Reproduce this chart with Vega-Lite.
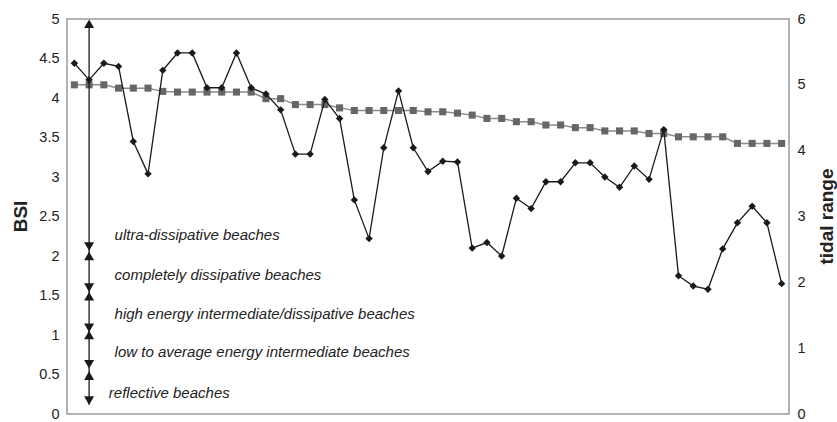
{
  "$schema": "https://vega.github.io/schema/vega-lite/v6.json",
  "width": 722,
  "height": 395,
  "autosize": "none",
  "padding": {"left": 67, "top": 19, "right": 48, "bottom": 8},
  "config": {
    "view": {"stroke": "#9a9a9a", "strokeWidth": 1.5},
    "font": "Liberation Sans",
    "axis": {"labelFont": "Liberation Sans", "labelFontSize": 14.5, "labelColor": "#222222", "titleFont": "Liberation Sans", "titleFontSize": 19, "titleFontWeight": "bold", "titleColor": "#222222", "domain": false, "ticks": false, "grid": false, "labelPadding": 8}
  },
  "datasets": {
    "series": [
      {"i": 1, "bsi": 4.44, "tr": 5.0},
      {"i": 2, "bsi": 4.23, "tr": 5.0},
      {"i": 3, "bsi": 4.44, "tr": 5.0},
      {"i": 4, "bsi": 4.4, "tr": 4.95},
      {"i": 5, "bsi": 3.45, "tr": 4.95},
      {"i": 6, "bsi": 3.04, "tr": 4.95},
      {"i": 7, "bsi": 4.35, "tr": 4.9},
      {"i": 8, "bsi": 4.57, "tr": 4.89},
      {"i": 9, "bsi": 4.57, "tr": 4.89},
      {"i": 10, "bsi": 4.13, "tr": 4.89},
      {"i": 11, "bsi": 4.13, "tr": 4.89},
      {"i": 12, "bsi": 4.57, "tr": 4.89},
      {"i": 13, "bsi": 4.13, "tr": 4.89},
      {"i": 14, "bsi": 4.05, "tr": 4.79},
      {"i": 15, "bsi": 3.85, "tr": 4.79},
      {"i": 16, "bsi": 3.29, "tr": 4.7},
      {"i": 17, "bsi": 3.29, "tr": 4.7},
      {"i": 18, "bsi": 3.98, "tr": 4.7},
      {"i": 19, "bsi": 3.74, "tr": 4.65},
      {"i": 20, "bsi": 2.71, "tr": 4.61},
      {"i": 21, "bsi": 2.22, "tr": 4.61},
      {"i": 22, "bsi": 3.37, "tr": 4.61},
      {"i": 23, "bsi": 4.09, "tr": 4.61},
      {"i": 24, "bsi": 3.37, "tr": 4.61},
      {"i": 25, "bsi": 3.07, "tr": 4.59},
      {"i": 26, "bsi": 3.2, "tr": 4.59},
      {"i": 27, "bsi": 3.19, "tr": 4.57},
      {"i": 28, "bsi": 2.1, "tr": 4.54},
      {"i": 29, "bsi": 2.17, "tr": 4.49},
      {"i": 30, "bsi": 2.0, "tr": 4.49},
      {"i": 31, "bsi": 2.73, "tr": 4.44},
      {"i": 32, "bsi": 2.6, "tr": 4.44},
      {"i": 33, "bsi": 2.94, "tr": 4.39},
      {"i": 34, "bsi": 2.94, "tr": 4.39},
      {"i": 35, "bsi": 3.18, "tr": 4.35},
      {"i": 36, "bsi": 3.18, "tr": 4.35},
      {"i": 37, "bsi": 3.0, "tr": 4.3},
      {"i": 38, "bsi": 2.87, "tr": 4.3},
      {"i": 39, "bsi": 3.14, "tr": 4.3},
      {"i": 40, "bsi": 2.97, "tr": 4.26},
      {"i": 41, "bsi": 3.6, "tr": 4.26},
      {"i": 42, "bsi": 1.75, "tr": 4.21},
      {"i": 43, "bsi": 1.62, "tr": 4.21},
      {"i": 44, "bsi": 1.58, "tr": 4.21},
      {"i": 45, "bsi": 2.09, "tr": 4.21},
      {"i": 46, "bsi": 2.42, "tr": 4.11},
      {"i": 47, "bsi": 2.63, "tr": 4.11},
      {"i": 48, "bsi": 2.42, "tr": 4.11},
      {"i": 49, "bsi": 1.65, "tr": 4.11}
    ],
    "axisline": [{"i": 2, "bsi": 0.12, "bsi2": 4.96}],
    "heads": [
      {"i": 2, "bsi": 4.94, "dir": "up"},
      {"i": 2, "bsi": 2.12, "dir": "down"},
      {"i": 2, "bsi": 2.0, "dir": "up"},
      {"i": 2, "bsi": 1.6, "dir": "down"},
      {"i": 2, "bsi": 1.49, "dir": "up"},
      {"i": 2, "bsi": 1.09, "dir": "down"},
      {"i": 2, "bsi": 1.0, "dir": "up"},
      {"i": 2, "bsi": 0.63, "dir": "down"},
      {"i": 2, "bsi": 0.485, "dir": "up"},
      {"i": 2, "bsi": 0.17, "dir": "down"}
    ],
    "labels": [
      {"i": 4, "bsi": 2.27, "label": "ultra-dissipative beaches"},
      {"i": 4, "bsi": 1.76, "label": "completely dissipative beaches"},
      {"i": 4, "bsi": 1.26, "label": "high energy intermediate/dissipative beaches"},
      {"i": 4, "bsi": 0.78, "label": "low to average energy intermediate beaches"}
    ],
    "labels2": [
      {"i": 3, "bsi": 0.27, "label": "reflective beaches"}
    ]
  },
  "layer": [
    {
      "data": {"name": "series"},
      "encoding": {
        "x": {"field": "i", "type": "ordinal", "axis": null},
        "y": {"field": "tr", "type": "quantitative", "scale": {"domain": [0, 6]}, "axis": {"orient": "right", "title": "tidal range", "values": [0, 1, 2, 3, 4, 5, 6], "format": "d", "titleAngle": 270, "titleX": 37, "titleY": 197, "titleAlign": "center", "titleBaseline": "middle"}}
      },
      "layer": [
        {"mark": {"type": "line", "color": "#8c8c8c", "strokeWidth": 1.5}},
        {"mark": {"type": "point", "shape": "square", "filled": true, "color": "#666666", "size": 50, "opacity": 1}}
      ]
    },
    {
      "encoding": {
        "x": {"field": "i", "type": "ordinal", "axis": null},
        "y": {"field": "bsi", "type": "quantitative", "scale": {"domain": [0, 5]}, "axis": {"orient": "left", "title": "BSI", "values": [0, 0.5, 1, 1.5, 2, 2.5, 3, 3.5, 4, 4.5, 5], "format": "~g", "titleX": -47, "titleY": 197, "titleAlign": "center", "titleBaseline": "middle"}}
      },
      "layer": [
        {
          "data": {"name": "series"},
          "mark": {"type": "line", "color": "#1a1a1a", "strokeWidth": 1.3}
        },
        {
          "data": {"name": "series"},
          "mark": {"type": "point", "shape": "diamond", "filled": true, "color": "#1a1a1a", "size": 55, "opacity": 1}
        },
        {
          "data": {"name": "axisline"},
          "mark": {"type": "rule", "color": "#1a1a1a", "strokeWidth": 1.3},
          "encoding": {
            "y2": {"field": "bsi2"}
          }
        },
        {
          "data": {"name": "heads"},
          "mark": {"type": "point", "filled": true, "color": "#1a1a1a", "size": 100, "opacity": 1},
          "encoding": {
            "shape": {"field": "dir", "type": "nominal", "scale": {"domain": ["up", "down"], "range": ["triangle-up", "triangle-down"]}, "legend": null}
          }
        },
        {
          "data": {"name": "labels"},
          "mark": {"type": "text", "align": "left", "baseline": "middle", "fontStyle": "italic", "fontSize": 15, "color": "#222222", "dx": -4},
          "encoding": {
            "text": {"field": "label"}
          }
        },
        {
          "data": {"name": "labels2"},
          "mark": {"type": "text", "align": "left", "baseline": "middle", "fontStyle": "italic", "fontSize": 15, "color": "#222222", "dx": 5},
          "encoding": {
            "text": {"field": "label"}
          }
        }
      ]
    }
  ],
  "resolve": {"scale": {"y": "independent"}}
}
